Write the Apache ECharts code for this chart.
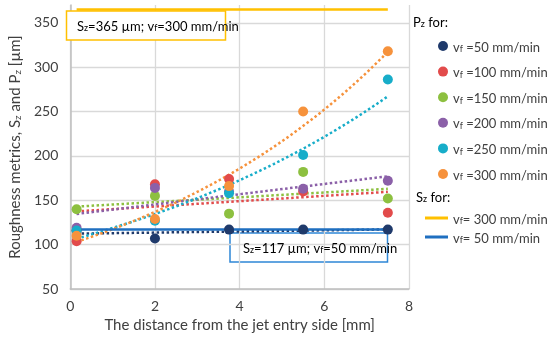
<!DOCTYPE html>
<html>
<head>
<meta charset="utf-8">
<script src="https://cdn.jsdelivr.net/npm/echarts@6/dist/echarts.min.js"></script>
<style>html,body{margin:0;padding:0;background:#fff}#c{width:550px;height:338px}</style>
</head>
<body>
<div id="c"></div>
<script>
// ---- data ----
const xPos = [0.15, 2, 3.75, 5.5, 7.5];
const pz50 = [116, 107, 117, 117, 117];
const pz100 = [104, 168, 174, 160, 136];
const pz150 = [140, 155, 135, 182, 152];
const pz200 = [119, 164, 160, 163, 172];
const pz250 = [116, 127, 158, 201, 286];
const pz300 = [110, 129, 166, 250, 318];
const sz300 = [365, 365, 365, 365, 365];
const sz50 = [117, 117, 117, 117, 117];
const pzFeeds = ['50', '100', '150', '200', '250', '300'];
const trendTypes = ['linear', 'linear', 'linear', 'linear', 'exp', 'exp'];
const xTicks = [0, 2, 4, 6, 8];
const yTicks = [50, 100, 150, 200, 250, 300, 350];

const pzSets = [pz50, pz100, pz150, pz200, pz250, pz300];
const colors = ['#1f3a6b', '#e24b4b', '#8dc040', '#8b60a8', '#17adc9', '#f6923c'];
const FONT = 'Lato';
const TXT = '#404040';

function linFit(xs, ys) {
  const n = xs.length;
  const mx = xs.reduce((a, b) => a + b, 0) / n;
  const my = ys.reduce((a, b) => a + b, 0) / n;
  let sxy = 0, sxx = 0;
  for (let i = 0; i < n; i++) { sxy += (xs[i] - mx) * (ys[i] - my); sxx += (xs[i] - mx) ** 2; }
  const b = sxy / sxx;
  return { a: my - b * mx, b };
}
function trendPoints(xs, ys, type) {
  const x0 = xs[0], x1 = xs[xs.length - 1];
  if (type === 'linear') {
    const f = linFit(xs, ys);
    return [[x0, f.a + f.b * x0], [x1, f.a + f.b * x1]];
  }
  const f = linFit(xs, ys.map(Math.log));
  const pts = [];
  const N = 60;
  for (let i = 0; i <= N; i++) {
    const x = x0 + (x1 - x0) * i / N;
    pts.push([x, Math.exp(f.a + f.b * x)]);
  }
  return pts;
}

const rich = {
  n: { fontFamily: FONT, fontSize: 13, color: TXT, lineHeight: 16, verticalAlign: 'bottom' },
  s: { fontFamily: FONT, fontSize: 9, color: TXT, lineHeight: 2, verticalAlign: 'bottom' }
};
const richBig = {
  n: { fontFamily: FONT, fontSize: 15, color: TXT, lineHeight: 18, verticalAlign: 'bottom' },
  s: { fontFamily: FONT, fontSize: 10, color: TXT, lineHeight: 2, verticalAlign: 'bottom' }
};

const series = [];
pzSets.forEach((ys, i) => {
  series.push({
    name: 't' + i, type: 'line', data: trendPoints(xPos, ys, trendTypes[i]),
    showSymbol: false, symbol: 'none', silent: true, z: 1,
    lineStyle: { color: colors[i], width: 2.5, type: 'dotted' }
  });
});
series.push({
  name: 'sz300', type: 'line', data: xPos.map((x, i) => [x, sz300[i]]), symbol: 'none', z: 2,
  lineStyle: { color: '#ffc000', width: 2.5 }, itemStyle: { color: '#ffc000' }
});
series.push({
  name: 'sz50', type: 'line', data: xPos.map((x, i) => [x, sz50[i]]), symbol: 'none', z: 2,
  lineStyle: { color: '#1f6fc0', width: 2.5 }, itemStyle: { color: '#1f6fc0' }
});
pzSets.forEach((ys, i) => {
  series.push({
    name: 'p' + pzFeeds[i], type: 'scatter', data: xPos.map((x, j) => [x, ys[j]]),
    symbolSize: 10, z: 3, itemStyle: { color: colors[i], opacity: 1 }
  });
});

const chart = echarts.init(document.getElementById('c'), null, { renderer: 'canvas' });
chart.setOption({
  animation: false,
  backgroundColor: '#fff',
  grid: { left: 61, right: 141, top: 5, bottom: 45, containLabel: false },
  xAxis: {
    type: 'value', min: xTicks[0], max: xTicks[xTicks.length - 1], interval: 2,
    axisLine: { show: true, lineStyle: { color: '#bfbfbf', width: 1.5 } },
    axisTick: { show: false },
    axisLabel: { color: TXT, fontFamily: FONT, fontSize: 14, margin: 10 },
    splitLine: { show: true, lineStyle: { color: '#d9d9d9', width: 1.3 } },
    name: 'The distance from the jet entry side [mm]', nameLocation: 'middle', nameGap: 24,
    nameTextStyle: { color: TXT, fontFamily: FONT, fontSize: 15 }
  },
  yAxis: {
    type: 'value', min: yTicks[0], max: 370, interval: 50,
    axisLine: { show: true, lineStyle: { color: '#bfbfbf', width: 1.5 } },
    axisTick: { show: false },
    axisLabel: { color: TXT, fontFamily: FONT, fontSize: 14, margin: 12, showMaxLabel: false },
    splitLine: { show: true, lineStyle: { color: ['#d9d9d9', '#d9d9d9', '#d9d9d9', '#d9d9d9', '#d9d9d9', '#d9d9d9', '#d9d9d9', 'rgba(0,0,0,0)'], width: 1.3 } },
    name: '{n|Roughness metrics, S}{s|z}{n| and P}{s|z}{n| [µm]}', nameLocation: 'middle', nameGap: 39,
    nameTextStyle: { rich: richBig }
  },
  legend: [
    {
      orient: 'vertical', left: 433, top: 36, itemWidth: 10, itemHeight: 10, itemGap: 12.6,
      icon: 'circle', data: pzFeeds.map(f => 'p' + f),
      formatter: name => '{n|v}{s|f}{n| =' + name.slice(1) + ' mm/min}',
      textStyle: { rich: rich }
    },
    {
      orient: 'vertical', left: 420, top: 208, itemWidth: 23, itemHeight: 3, itemGap: 6,
      icon: 'rect', data: ['sz300', 'sz50'],
      formatter: name => '{n|v}{s|f}{n|= ' + name.slice(2) + ' mm/min}',
      textStyle: { rich: rich }
    }
  ],
  graphic: [
    { type: 'text', left: 413, top: 16, style: { text: '{n|P}{s|z}{n| for:}', rich: rich } },
    { type: 'text', left: 416, top: 191, style: { text: '{n|S}{s|z}{n| for:}', rich: rich } },
    { type: 'rect', shape: { x: 66.5, y: 11, width: 159, height: 29 }, style: { fill: '#fff', stroke: '#ffc000', lineWidth: 1.5 }, z: 10 },
    { type: 'text', x: 77, y: 17, z: 11, style: { text: '{n|S}{s|z}{n|=365 µm; v}{s|f}{n|=300 mm/min}', rich: rich } },
    { type: 'rect', shape: { x: 230, y: 233, width: 157.5, height: 29 }, style: { fill: '#fff', stroke: '#2e86d6', lineWidth: 1.5 }, z: 0 },
    { type: 'text', x: 243, y: 239, z: 11, style: { text: '{n|S}{s|z}{n|=117 µm; v}{s|f}{n|=50 mm/min}', rich: rich } }
  ],
  series: series
});
</script>
</body>
</html>
